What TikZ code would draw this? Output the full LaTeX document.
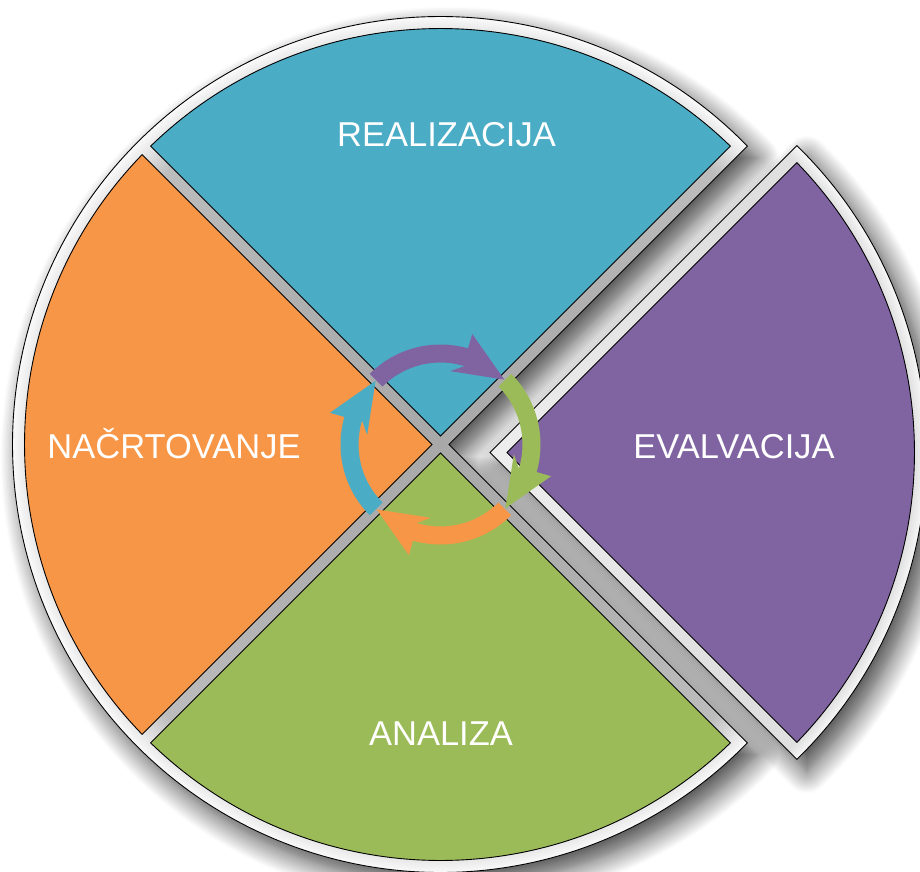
\documentclass[tikz,border=0pt]{standalone}
\usepackage{fontspec}
\setmainfont{Liberation Sans}
\usetikzlibrary{shadows.blur}

\definecolor{realizblue}{HTML}{4BACC6}
\definecolor{nacrtorange}{HTML}{F79646}
\definecolor{analgreen}{HTML}{9BBB59}
\definecolor{evalpurple}{HTML}{8064A2}

\pgfdeclareradialshading{rimgray}{\pgfpoint{0bp}{0bp}}{color(0bp)=(gray!68); color(12bp)=(gray!62); color(22.5bp)=(gray!52); color(24.3bp)=(gray!18); color(25bp)=(gray!4); color(50bp)=(gray!4)}
\pgfdeclareradialshading{rimlight}{\pgfpoint{0bp}{0bp}}{color(0bp)=(gray!14); color(20bp)=(gray!26); color(24.3bp)=(gray!24); color(25bp)=(gray!6); color(50bp)=(gray!6)}

\newcommand{\frameleft}{(8.5,0) -- (44.2:428) arc[start angle=44.2, end angle=315.8, radius=428] -- cycle}
\newcommand{\frameeval}{(-8.5,0) -- (-45.8:428) arc[start angle=-45.8, end angle=45.8, radius=428] -- cycle}

\tikzset{
    rim/.style={draw=black, line width=0.9pt},
    sector/.style={draw=black, line width=0.9pt},
    sectortext/.style={text=white, anchor=base, font=\fontsize{34.5}{40}\selectfont},
    softshadow/.style={blur shadow={shadow xshift=10pt, shadow yshift=-12pt,
        shadow blur radius=22pt, shadow blur steps=16, shadow opacity=75}}
}

\begin{document}
\begin{tikzpicture}[x=1pt, y=1pt]
        \useasboundingbox (-440.5,-426.5) rectangle (479.5,444.5);
        % frames with shadow
        \path[softshadow, fill=white] \frameleft;
        \begin{scope}[shift={(58,-8)}]
            \path[softshadow, fill=white] \frameeval;
            \begin{scope}
                \clip \frameeval;
                \shade[shading=rimlight] (0,0) circle (428);
            \end{scope}
            \draw[rim] \frameeval;
        \end{scope}
        \begin{scope}
            \clip \frameleft;
            \shade[shading=rimgray] (0,0) circle (428);
        \end{scope}
        \draw[rim] \frameleft;
        % coloured sectors
        \draw[sector, fill=realizblue]
            (0,8.5) -- (45.83:416) arc[start angle=45.83, end angle=134.17, radius=416] -- cycle;
        \draw[sector, fill=nacrtorange]
            (-8.5,0) -- (135.83:416) arc[start angle=135.83, end angle=224.17, radius=416] -- cycle;
        \draw[sector, fill=analgreen]
            (0,-8.5) -- (225.83:416) arc[start angle=225.83, end angle=314.17, radius=416] -- cycle;
        \draw[sector, fill=evalpurple, shift={(58,-8)}]
            (8.5,0) -- (-44.17:416) arc[start angle=-44.17, end angle=44.17, radius=416] -- cycle;
        % cycle arrows
        \fill[analgreen, rotate=-90]
            (135:100) arc[start angle=135, end angle=74, radius=100] -- (74:115) -- (45.5:91)
            -- (82.5:74) -- (73:82) arc[start angle=73, end angle=135, radius=82] -- cycle;
        \fill[nacrtorange, rotate=180]
            (135:100) arc[start angle=135, end angle=74, radius=100] -- (74:115) -- (45.5:91)
            -- (82.5:74) -- (73:82) arc[start angle=73, end angle=135, radius=82] -- cycle;
        \fill[realizblue, rotate=90]
            (135:100) arc[start angle=135, end angle=74, radius=100] -- (74:115) -- (45.5:91)
            -- (82.5:74) -- (73:82) arc[start angle=73, end angle=135, radius=82] -- cycle;
        \fill[evalpurple]
            (135:100) arc[start angle=135, end angle=74, radius=100] -- (74:115) -- (45.5:91)
            -- (82.5:74) -- (73:82) arc[start angle=73, end angle=135, radius=82] -- cycle;
        % labels
        \node[sectortext] (realizacija) at (6,297.8) {REALIZACIJA};
        \node[sectortext] (nacrtovanje) at (-266.5,-13.8) {NAČRTOVANJE};
        \node[sectortext] (evalvacija) at (293.5,-13.8) {EVALVACIJA};
        \node[sectortext] (analiza) at (0.5,-300.5) {ANALIZA};
\end{tikzpicture}
\end{document}
